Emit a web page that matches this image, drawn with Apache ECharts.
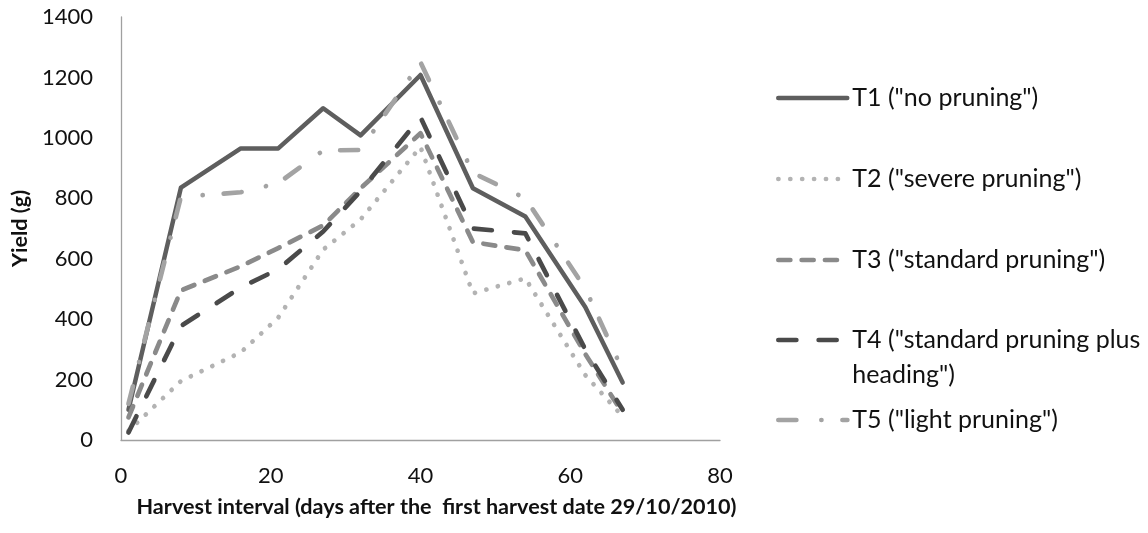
<!DOCTYPE html>
<html>
<head>
<meta charset="utf-8">
<script src="https://cdn.jsdelivr.net/npm/echarts@6/dist/echarts.min.js"></script>
<style>
  html, body { margin: 0; padding: 0; background: #fff; }
  #chart { width: 1148px; height: 533px; }
</style>
</head>
<body>
<div id="chart"></div>
<script>
// Harvest days after the first harvest (29/10/2010)
const harvestDays = [1, 8, 16, 21, 27, 32, 40, 47, 54, 62, 67];

// Yield (g) per harvest for each pruning treatment
const t1NoPruning = [100, 835, 965, 965, 1098, 1008, 1208, 833, 740, 440, 190];
const t2Severe    = [30, 195, 290, 405, 630, 730, 970, 485, 535, 215, 78];
const t3Standard  = [75, 495, 575, 635, 710, 833, 1015, 655, 628, 285, 88];
const t4Heading   = [25, 377, 505, 565, 690, 824, 1068, 700, 684, 300, 100];
const t5Light     = [120, 805, 820, 850, 958, 960, 1250, 884, 800, 502, 230];

const seriesNames = [
  'T1 ("no pruning")',
  'T2 ("severe pruning")',
  'T3 ("standard pruning")',
  'T4 ("standard pruning plus heading")',
  'T5 ("light pruning")'
];

// Tick labels
const xTicks = [0, 20, 40, 60, 80];
const yTicks = [0, 200, 400, 600, 800, 1000, 1200, 1400];

const FONT = 'Lato, "Open Sans", sans-serif';

function pairs(values) {
  return harvestDays.map((d, i) => [d, values[i]]);
}

const styles = [
  { color: '#5e5e5e', width: 4.5, type: 'solid' },
  { color: '#b3b3b3', width: 4.7, type: [0.1, 11.8] },
  { color: '#8a8a8a', width: 4.7, type: [12, 11.3] },
  { color: '#4a4a4a', width: 4.7, type: [18, 22.3] },
  { color: '#a3a3a3', width: 4.7, type: [18, 25, 0.1, 21] }
];

const allValues = [t1NoPruning, t2Severe, t3Standard, t4Heading, t5Light];

const series = allValues.map((vals, i) => ({
  name: seriesNames[i],
  type: 'line',
  data: pairs(vals),
  symbol: 'none',
  animation: false,
  color: styles[i].color,
  lineStyle: {
    color: styles[i].color,
    width: styles[i].width,
    type: styles[i].type,
    cap: 'round',
    join: 'round'
  }
}));

// One legend block per treatment, stacked on the right.
// T4 wraps onto a second line; a blank leading line keeps its icon
// level with the first line of text (legend text is centred on the icon).
const LEGEND_LH = 35;
const legendCenters = [98, 179, 260, 340, 420];
const legends = seriesNames.map((name, i) => {
  const wrapped = i === 3;
  return {
    data: [name],
    left: 776,
    top: legendCenters[i] - (wrapped ? LEGEND_LH * 1.5 : LEGEND_LH / 2),
    padding: 0,
    itemWidth: 69,
    itemHeight: 14,
    selectedMode: false,
    itemStyle: { opacity: 0 },
    lineStyle: { width: styles[i].width, cap: 'round' },
    formatter: n => wrapped ? '\n' + n.replace(' heading', '\nheading') : n,
    textStyle: {
      fontFamily: FONT,
      fontSize: 25,
      color: '#111',
      lineHeight: LEGEND_LH
    }
  };
});

const chart = echarts.init(document.getElementById('chart'), null, { renderer: 'canvas' });
chart.setOption({
  animation: false,
  backgroundColor: '#fff',
  grid: { left: 121, right: 428, top: 17, bottom: 93, containLabel: false },
  legend: legends,
  xAxis: {
    type: 'value',
    min: xTicks[0],
    max: xTicks[xTicks.length - 1],
    interval: xTicks[1] - xTicks[0],
    name: 'Harvest interval (days after the  first harvest date 29/10/2010)',
    nameLocation: 'middle',
    nameGap: 56,
    nameTextStyle: {
      fontFamily: FONT, fontSize: 21.6, fontWeight: 'bold', color: '#111',
      padding: [0, 0, 0, 32]
    },
    axisLine: { show: true, lineStyle: { color: '#a0a0a0', width: 1.3 } },
    axisTick: { show: false },
    splitLine: { show: false },
    axisLabel: { fontFamily: FONT, fontSize: 22, color: '#111', margin: 25 }
  },
  yAxis: {
    type: 'value',
    min: yTicks[0],
    max: yTicks[yTicks.length - 1],
    interval: yTicks[1] - yTicks[0],
    name: 'Yield (g)',
    nameLocation: 'middle',
    nameGap: 79,
    nameTextStyle: { fontFamily: FONT, fontSize: 21.6, fontWeight: 'bold', color: '#111' },
    axisLine: { show: true, lineStyle: { color: '#a0a0a0', width: 1.3 } },
    axisTick: { show: false },
    splitLine: { show: false },
    axisLabel: {
      fontFamily: FONT, fontSize: 22, color: '#111', margin: 28,
      formatter: v => String(v)
    }
  },
  series: series
});
</script>
</body>
</html>
